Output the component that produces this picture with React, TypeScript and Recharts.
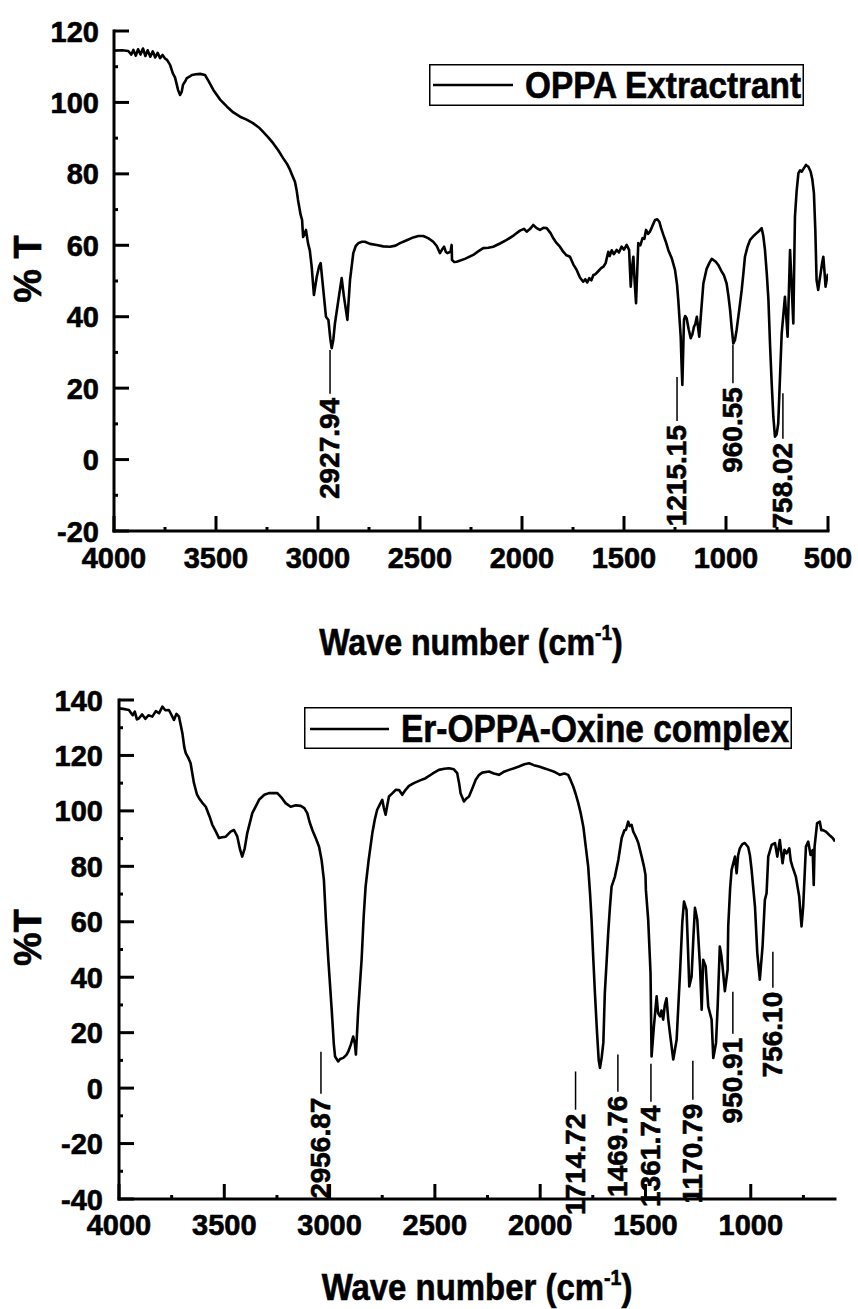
import React from 'react';
import { LineChart, Line, XAxis, YAxis, ReferenceLine, Legend } from 'recharts';

const FONT = "'Liberation Sans', Arial, Helvetica, sans-serif";
const M = 10;

// ---------- Top panel: OPPA Extractrant ----------
const oppaWave = [
  4000, 3960, 3930, 3915, 3905, 3893, 3882, 3870, 3858, 3846, 3835, 3822, 3810, 3798, 3786, 3774, 3762, 3750,
  3740, 3725, 3712, 3701, 3686, 3676, 3668, 3662, 3650, 3643, 3630, 3618, 3598, 3578, 3554, 3535, 3513, 3480,
  3446, 3415, 3382, 3350, 3319, 3290, 3270, 3245, 3220, 3195, 3171, 3150, 3137, 3125, 3113, 3105, 3098, 3085,
  3078, 3073, 3066, 3059, 3049, 3040, 3031, 3020, 3006, 2995, 2987, 2974, 2961, 2949, 2940, 2933, 2925, 2917,
  2900, 2884, 2873, 2856, 2843, 2827, 2815, 2802, 2785, 2770, 2745, 2712, 2680, 2647, 2620, 2598, 2565, 2533,
  2508, 2484, 2460, 2435, 2418, 2402, 2392, 2382, 2374, 2366, 2350, 2345, 2343, 2332, 2320, 2280, 2239, 2215,
  2190, 2165, 2141, 2108, 2075, 2040, 2010, 1990, 1977, 1960, 1945, 1928, 1912, 1895, 1879, 1860, 1845, 1830,
  1814, 1798, 1782, 1765, 1748, 1732, 1716, 1700, 1690, 1680, 1670, 1660, 1650, 1640, 1625, 1612, 1601, 1590,
  1577, 1570, 1560, 1550, 1536, 1525, 1512, 1500, 1487, 1475, 1467, 1460, 1454, 1448, 1441, 1430, 1420, 1409,
  1400, 1392, 1382, 1373, 1360, 1348, 1337, 1327, 1318, 1307, 1295, 1283, 1265, 1250, 1240, 1234, 1222, 1218,
  1214, 1210, 1206, 1200, 1193, 1183, 1173, 1165, 1157, 1150, 1143, 1137, 1131, 1121, 1111, 1095, 1082, 1070,
  1062, 1050, 1038, 1020, 1010, 997, 988, 980, 972, 964, 956, 948, 935, 923, 915, 907, 895, 882, 865, 850, 838,
  825, 817, 809, 800, 792, 784, 776, 768, 760, 752, 744, 736, 727, 711, 698, 686, 670, 662, 654, 645, 637, 629,
  618, 608, 596, 585, 577, 569, 562, 556, 548, 542, 536, 529, 523, 517, 512, 506, 500,
];
const oppaT = [
  114.5, 114.6, 114.4, 113.4, 114.7, 113.1, 114.9, 113.4, 115.1, 113.0, 114.6, 112.8, 114.3, 112.6, 113.9, 112.4, 113.3, 112.3,
  111.9, 110.5, 108.2, 107.0, 103.5, 102.1, 103.0, 104.9, 106.0, 106.8, 107.2, 107.7, 107.9, 108.0, 107.7, 105.8, 103.5, 100.8,
  98.8, 97.2, 96.0, 95.2, 94.2, 93.0, 91.8, 90.3, 88.6, 86.6, 84.4, 82.6, 81.1, 79.4, 77.8, 75.5, 72.7, 68.5,
  67.1, 62.3, 63.2, 64.3, 60.6, 58.5, 54.0, 46.1, 51.2, 54.0, 55.0, 47.5, 40.0, 39.1, 34.0, 31.2, 33.5, 38.1,
  44.7, 50.8, 45.7, 39.1, 50.3, 57.8, 59.8, 60.6, 61.0, 61.0, 60.4, 60.1, 59.7, 59.6, 59.9, 60.6, 61.4, 62.2,
  62.6, 62.6, 62.0, 61.0, 59.8, 57.8, 58.8, 59.6, 58.2, 57.8, 58.2, 60.1, 55.9, 55.3, 55.4, 56.2, 57.3, 58.3,
  59.2, 59.3, 59.6, 60.5, 61.5, 62.8, 64.1, 64.6, 63.8, 64.6, 65.7, 64.8, 64.3, 64.9, 64.8, 63.4, 61.8, 60.6,
  59.6, 58.2, 57.2, 56.8, 54.6, 53.1, 51.0, 49.8, 50.5, 49.6, 50.8, 50.2, 51.7, 51.9, 52.8, 53.6, 54.0, 55.0,
  58.2, 57.0, 58.6, 57.5, 58.7, 58.0, 59.6, 58.8, 60.1, 58.7, 48.4, 54.0, 56.8, 50.0, 43.8, 60.6, 60.0, 62.0,
  61.8, 64.3, 63.2, 63.8, 65.5, 67.1, 67.3, 66.6, 64.8, 62.9, 61.0, 58.7, 56.2, 53.1, 49.0, 44.7, 34.4, 27.0,
  20.9, 30.0, 39.1, 40.2, 39.6, 36.5, 34.0, 35.0, 37.2, 38.0, 40.0, 37.0, 34.4, 42.0, 49.3, 53.4, 55.0, 56.2,
  55.9, 55.4, 54.5, 52.5, 51.6, 49.3, 45.8, 41.9, 36.8, 32.5, 33.5, 36.3, 42.0, 47.5, 52.0, 56.8, 59.5, 61.5, 62.6, 63.4, 64.0,
  64.8, 62.5, 58.7, 52.0, 44.7, 32.0, 21.3, 12.0, 6.4, 7.0, 10.1, 22.0, 35.3, 45.6, 34.4, 58.7, 38.1, 68.0, 75.0, 80.2, 81.0, 80.6,
  81.6, 82.5, 82.0, 80.6, 78.5, 74.6, 64.0, 50.3, 47.5, 50.0, 52.2, 55.0, 56.8, 52.5, 48.4, 50.5, 52.0,
];

const topXTicks = [4000, 3750, 3500, 3250, 3000, 2750, 2500, 2250, 2000, 1750, 1500, 1250, 1000, 750, 500];
const topXMajor = [4000, 3500, 3000, 2500, 2000, 1500, 1000, 500];
const topYTicks = [-20, -10, 0, 10, 20, 30, 40, 50, 60, 70, 80, 90, 100, 110, 120];
const topYMajor = [-20, 0, 20, 40, 60, 80, 100, 120];

const topAnnLabels = ['2927.94', '1215.15', '960.55', '758.02'];
const topAnnWave = [2941, 1240, 966, 721];
const topAnnTop = [30.7, 23.1, 32.1, 18.6];
const topAnnBottom = [18.4, 10.8, 21.4, 5.8];

// ---------- Bottom panel: Er-OPPA-Oxine complex ----------
const erWave = [
  4000, 3980, 3953, 3935, 3925, 3915, 3905, 3890, 3875, 3860, 3842, 3825, 3810, 3794, 3780, 3763, 3750, 3739,
  3727, 3715, 3707, 3699, 3690, 3683, 3670, 3660, 3644, 3630, 3620, 3605, 3588, 3570, 3557, 3540, 3525, 3510,
  3493, 3470, 3454, 3438, 3425, 3415, 3403, 3391, 3367, 3335, 3310, 3288, 3248, 3225, 3209, 3185, 3160, 3137,
  3120, 3106, 3095, 3082, 3065, 3050, 3038, 3027, 3017, 3006, 2990, 2980, 2974, 2959, 2950, 2935, 2920, 2911,
  2900, 2888, 2880, 2875, 2864, 2848, 2838, 2829, 2815, 2797, 2785, 2774, 2760, 2750, 2742, 2734, 2726, 2718,
  2700, 2686, 2670, 2655, 2640, 2623, 2600, 2570, 2544, 2510, 2481, 2455, 2433, 2410, 2394, 2385, 2378, 2362,
  2350, 2338, 2320, 2306, 2290, 2275, 2243, 2220, 2196, 2175, 2148, 2120, 2101, 2075, 2053, 2030, 2006, 1985,
  1958, 1930, 1906, 1885, 1867, 1855, 1843, 1831, 1819, 1807, 1795, 1785, 1772, 1763, 1756, 1748, 1740, 1730,
  1722, 1716, 1708, 1700, 1693, 1685, 1677, 1669, 1661, 1645, 1629, 1613, 1600, 1593, 1582, 1575, 1566, 1558,
  1550, 1542, 1534, 1518, 1507, 1500, 1498, 1487, 1476, 1471, 1460, 1447, 1440, 1431, 1424, 1416, 1408, 1400,
  1392, 1384, 1368, 1352, 1336, 1325, 1317, 1305, 1298, 1292, 1281, 1272, 1265, 1254, 1241, 1233, 1226, 1214,
  1202, 1186, 1178, 1165, 1157, 1147, 1140, 1134, 1123, 1110, 1107, 1098, 1091, 1075, 1067, 1060, 1052, 1040,
  1028, 1012, 1004, 996, 980, 969, 957, 944, 933, 925, 917, 901, 885, 874, 862, 849, 840, 830, 817, 810, 802,
  786, 770, 759, 751, 738, 727, 716, 706, 701, 697, 685, 672, 665, 659, 643, 627, 611, 600,
];
const erT = [
  137.0, 136.8, 136.4, 134.5, 135.8, 133.0, 133.4, 134.8, 133.2, 134.5, 134.0, 136.0, 135.2, 137.6, 136.3, 136.4, 134.5, 132.8,
  135.0, 134.0, 131.0, 128.0, 123.0, 120.8, 119.0, 117.2, 110.0, 106.0, 104.6, 103.0, 101.5, 98.0, 95.0, 92.5, 90.2, 90.5,
  90.7, 92.5, 93.1, 90.7, 86.0, 83.5, 86.5, 92.0, 99.2, 104.0, 105.8, 106.4, 106.4, 104.5, 102.8, 101.5, 102.0, 101.8,
  101.0, 99.2, 96.0, 93.1, 90.0, 87.1, 82.3, 75.1, 60.0, 46.3, 28.3, 16.0, 11.4, 9.6, 10.5, 10.9, 12.0, 13.2,
  15.5, 18.6, 16.0, 12.1, 28.3, 46.3, 62.0, 72.7, 82.0, 92.0, 97.0, 100.4, 102.5, 104.0, 101.0, 98.6, 102.0, 105.2,
  106.5, 107.6, 107.5, 105.8, 107.5, 109.0, 110.0, 111.0, 111.8, 113.5, 114.8, 115.2, 115.4, 115.0, 113.6, 110.0, 106.4, 103.4,
  104.5, 105.2, 108.5, 111.2, 113.0, 113.8, 114.2, 113.5, 113.0, 114.0, 114.8, 115.5, 116.0, 116.8, 117.2, 116.5, 116.0, 115.5,
  114.8, 114.0, 113.0, 113.5, 113.0, 111.0, 108.8, 106.0, 102.8, 99.0, 94.3, 88.0, 79.9, 70.0, 60.7, 47.0, 34.3, 20.0,
  10.0, 7.3, 11.0, 16.4, 34.3, 45.0, 55.9, 65.0, 72.7, 76.3, 82.3, 90.2, 93.0, 93.1, 96.1, 94.5, 95.0, 92.5,
  91.3, 90.0, 88.4, 83.5, 79.9, 77.0, 71.5, 60.7, 41.5, 11.4, 22.3, 33.1, 27.0, 25.9, 28.0, 24.7, 30.0, 32.4,
  25.0, 19.9, 10.3, 17.5, 41.5, 60.0, 67.3, 64.3, 50.0, 36.7, 40.3, 55.0, 65.0, 60.7, 43.9, 28.3, 46.3, 43.9,
  29.5, 24.7, 10.9, 16.3, 30.0, 51.1, 48.0, 43.9, 35.0, 42.7, 58.3, 72.0, 78.7, 83.5, 77.5, 84.0, 86.5, 88.0,
  88.4, 86.9, 84.0, 78.7, 65.5, 48.7, 39.1, 51.1, 67.9, 70.3, 83.5, 87.7, 88.4, 83.5, 89.5, 81.1, 86.0, 84.7, 86.5, 82.0, 79.9,
  76.3, 69.1, 58.3, 65.5, 87.1, 88.9, 84.1, 85.9, 73.3, 87.1, 95.6, 96.1, 93.0, 93.1, 92.5, 91.3, 90.2, 89.0,
];

const botXTicks = [4000, 3750, 3500, 3250, 3000, 2750, 2500, 2250, 2000, 1750, 1500, 1250, 1000, 750];
const botXMajor = [4000, 3500, 3000, 2500, 2000, 1500, 1000];
const botYTicks = [-40, -30, -20, -10, 0, 10, 20, 30, 40, 50, 60, 70, 80, 90, 100, 110, 120, 130, 140];
const botYMajor = [-40, -20, 0, 20, 40, 60, 80, 100, 120, 140];

const botAnnLabels = ['2956.87', '1714.72', '1469.76', '1361.74', '1170.79', '950.91', '756.10'];
const botAnnWave = [3041, 1832, 1631, 1474, 1275, 1085, 895];
const botAnnTop = [13.1, 6.0, 12.1, 8.8, 9.9, 34.8, 49.2];
const botAnnBottom = [-2.0, -7.8, -1.3, -4.9, -4.2, 19.6, 36.2];

const topData = oppaWave.map((w, i) => ({ w, t: oppaT[i] }));
const botData = erWave.map((w, i) => ({ w, t: erT[i] }));

const axisStyle = { stroke: '#000', strokeWidth: 3, strokeLinecap: 'square' as const };
const HEAVY = { stroke: '#000', strokeWidth: 0.6 };

const makeXTick = (majors: number[], labelDy: number) => (p: any) => {
  const v = p.payload?.value;
  const major = majors.indexOf(v) >= 0;
  const ay = p.y - M;
  return (
    <g>
      <line x1={p.x} x2={p.x} y1={ay} y2={ay - (major ? 15 : 4)} stroke="#000" strokeWidth={3} />
      {major ? (
        <text x={p.x} y={ay + labelDy} textAnchor="middle" fontFamily={FONT} fontWeight="bold" fontSize={29} fill="#000" {...HEAVY}>
          {v}
        </text>
      ) : null}
    </g>
  );
};

const makeYTick = (majors: number[], gap: number) => (p: any) => {
  const v = p.payload?.value;
  const major = majors.indexOf(v) >= 0;
  const ax = p.x + M;
  return (
    <g>
      <line x1={ax} x2={ax + (major ? 15 : 4)} y1={p.y} y2={p.y} stroke="#000" strokeWidth={3} />
      {major ? (
        <text x={ax - gap} y={p.y + 10.5} textAnchor="end" fontFamily={FONT} fontWeight="bold" fontSize={29} fill="#000" {...HEAVY}>
          {v}
        </text>
      ) : null}
    </g>
  );
};

const TopTick = (p: any) => {
  const ay = p.y + M;
  return <line x1={p.x} x2={p.x} y1={ay} y2={ay + 4} stroke="#000" strokeWidth={3} />;
};

const RightTick = (p: any) => {
  const ax = p.x - M;
  return <line x1={ax} x2={ax - 4} y1={p.y} y2={p.y} stroke="#000" strokeWidth={3} />;
};

const xTitle = (offsetY: number, sx: number) => (props: any) => {
  const vb = props.viewBox || {};
  const cx = vb.x + vb.width / 2;
  const by = vb.y + offsetY;
  return (
    <text
      transform={`translate(${cx},${by}) scale(${sx},1)`}
      textAnchor="middle"
      fontFamily={FONT}
      fontWeight="bold"
      fontSize={37}
      fill="#000"
      {...HEAVY}
    >
      Wave number (cm
      <tspan fontSize={22} dy={-15}>-1</tspan>
      <tspan dy={15}>)</tspan>
    </text>
  );
};

const yTitle = (text: string) => (props: any) => {
  const vb = props.viewBox || {};
  const ax = vb.x + 41;
  const ay = vb.y + vb.height / 2 - 12;
  return (
    <text
      transform={`translate(${ax},${ay}) rotate(-90)`}
      textAnchor="middle"
      fontFamily={FONT}
      fontWeight="bold"
      fontSize={38}
      fill="#000"
      {...HEAVY}
    >
      {text}
    </text>
  );
};

const annLabel = (text: string) => (props: any) => {
  const vb = props.viewBox || {};
  const lx = vb.x + (vb.width || 0) / 2;
  const by = vb.y + (vb.height || 0);
  return (
    <text
      transform={`translate(${lx + 9},${by + 4}) rotate(-90)`}
      textAnchor="end"
      fontFamily={FONT}
      fontWeight="bold"
      fontSize={28}
      fill="#000"
      {...HEAVY}
    >
      {text}
    </text>
  );
};

type LegendBox = { w: number; h: number; lx1: number; lx2: number; ly: number; tx: number; ty: number; fs: number; tl: number };

const legendContent = (b: LegendBox) => (props: any) => {
  const name = props.payload && props.payload[0] ? props.payload[0].value : '';
  return (
    <svg width={b.w} height={b.h} style={{ display: 'block', overflow: 'visible' }}>
      <rect x={0.75} y={0.75} width={b.w - 1.5} height={b.h - 1.5} fill="#fff" stroke="#000" strokeWidth={1.5} />
      <line x1={b.lx1} x2={b.lx2} y1={b.ly} y2={b.ly} stroke="#000" strokeWidth={2.5} />
      <text
        x={b.tx}
        y={b.ty}
        fontFamily={FONT}
        fontWeight="bold"
        fontSize={b.fs}
        fill="#000"
        textLength={b.tl}
        lengthAdjust="spacingAndGlyphs"
        {...HEAVY}
      >
        {name}
      </text>
    </svg>
  );
};

const topLegend = legendContent({ w: 375, h: 42, lx1: 4, lx2: 84, ly: 21, tx: 96, ty: 34, fs: 36, tl: 276 });
const botLegend = legendContent({ w: 488, h: 42, lx1: 6, lx2: 85, ly: 22, tx: 97, ty: 35, fs: 38, tl: 388 });

export default function App() {
  return (
    <div style={{ position: 'absolute', left: 0, top: 0, width: 858, height: 1309, background: '#fff' }}>
      <div style={{ position: 'absolute', left: 0, top: 0 }}>
        <LineChart width={858} height={680} data={topData} margin={{ top: 31, right: 30, bottom: 29, left: 0 }}>
          <XAxis
            xAxisId="main"
            dataKey="w"
            type="number"
            domain={[500, 4000]}
            reversed
            allowDataOverflow
            ticks={topXTicks}
            interval={0}
            tickSize={0}
            tickMargin={M}
            tickLine={false}
            tick={makeXTick(topXMajor, 37)}
            axisLine={axisStyle}
            height={120}
            label={{ content: xTitle(124, 0.87) }}
          />
          <XAxis
            xAxisId="top"
            orientation="top"
            dataKey="w"
            type="number"
            domain={[500, 4000]}
            reversed
            allowDataOverflow
            ticks={topXTicks}
            interval={0}
            tickSize={0}
            tickMargin={M}
            tickLine={false}
            tick={TopTick}
            axisLine={axisStyle}
            height={0}
          />
          <YAxis
            yAxisId="main"
            type="number"
            domain={[-20, 120]}
            allowDataOverflow
            ticks={topYTicks}
            interval={0}
            tickSize={0}
            tickMargin={M}
            tickLine={false}
            tick={makeYTick(topYMajor, 15)}
            axisLine={axisStyle}
            width={114}
            label={{ content: yTitle('% T') }}
          />
          <YAxis
            yAxisId="right"
            orientation="right"
            type="number"
            domain={[-20, 120]}
            allowDataOverflow
            ticks={topYTicks}
            interval={0}
            tickSize={0}
            tickMargin={M}
            tickLine={false}
            tick={RightTick}
            axisLine={axisStyle}
            width={0}
          />
          <Line
            xAxisId="main"
            yAxisId="main"
            type="linear"
            dataKey="t"
            name="OPPA Extractrant"
            stroke="#000"
            strokeWidth={2.6}
            strokeLinejoin="round"
            dot={false}
            activeDot={false}
            isAnimationActive={false}
          />
          {topAnnLabels.map((lab, i) => (
            <ReferenceLine
              key={lab}
              xAxisId="main"
              yAxisId="main"
              segment={[
                { x: topAnnWave[i], y: topAnnTop[i] },
                { x: topAnnWave[i], y: topAnnBottom[i] },
              ]}
              stroke="#000"
              strokeWidth={1.5}
              ifOverflow="visible"
              label={{ content: annLabel(lab) }}
            />
          ))}
          <Legend
            layout="horizontal"
            verticalAlign="middle"
            align="center"
            content={topLegend}
            wrapperStyle={{ left: 429, top: 64, width: 375, height: 42 }}
          />
        </LineChart>
      </div>
      <div style={{ position: 'absolute', left: 0, top: 680 }}>
        <LineChart width={858} height={629} data={botData} margin={{ top: 20, right: 23, bottom: 10, left: 0 }}>
          <XAxis
            xAxisId="main"
            dataKey="w"
            type="number"
            domain={[600, 4000]}
            reversed
            allowDataOverflow
            ticks={botXTicks}
            interval={0}
            tickSize={0}
            tickMargin={M}
            tickLine={false}
            tick={makeXTick(botXMajor, 36)}
            axisLine={axisStyle}
            height={100}
            label={{ content: xTitle(101, 0.89) }}
          />
          <XAxis
            xAxisId="top"
            orientation="top"
            dataKey="w"
            type="number"
            domain={[600, 4000]}
            reversed
            allowDataOverflow
            ticks={botXTicks}
            interval={0}
            tickSize={0}
            tickMargin={M}
            tickLine={false}
            tick={TopTick}
            axisLine={axisStyle}
            height={0}
          />
          <YAxis
            yAxisId="main"
            type="number"
            domain={[-40, 140]}
            allowDataOverflow
            ticks={botYTicks}
            interval={0}
            tickSize={0}
            tickMargin={M}
            tickLine={false}
            tick={makeYTick(botYMajor, 16)}
            axisLine={axisStyle}
            width={119}
            label={{ content: yTitle('%T') }}
          />
          <YAxis
            yAxisId="right"
            orientation="right"
            type="number"
            domain={[-40, 140]}
            allowDataOverflow
            ticks={botYTicks}
            interval={0}
            tickSize={0}
            tickMargin={M}
            tickLine={false}
            tick={RightTick}
            axisLine={axisStyle}
            width={0}
          />
          <Line
            xAxisId="main"
            yAxisId="main"
            type="linear"
            dataKey="t"
            name="Er-OPPA-Oxine complex"
            stroke="#000"
            strokeWidth={2.6}
            strokeLinejoin="round"
            dot={false}
            activeDot={false}
            isAnimationActive={false}
          />
          {botAnnLabels.map((lab, i) => (
            <ReferenceLine
              key={lab}
              xAxisId="main"
              yAxisId="main"
              segment={[
                { x: botAnnWave[i], y: botAnnTop[i] },
                { x: botAnnWave[i], y: botAnnBottom[i] },
              ]}
              stroke="#000"
              strokeWidth={1.5}
              ifOverflow="visible"
              label={{ content: annLabel(lab) }}
            />
          ))}
          <Legend
            layout="horizontal"
            verticalAlign="middle"
            align="center"
            content={botLegend}
            wrapperStyle={{ left: 304, top: 27, width: 488, height: 42 }}
          />
        </LineChart>
      </div>
    </div>
  );
}
